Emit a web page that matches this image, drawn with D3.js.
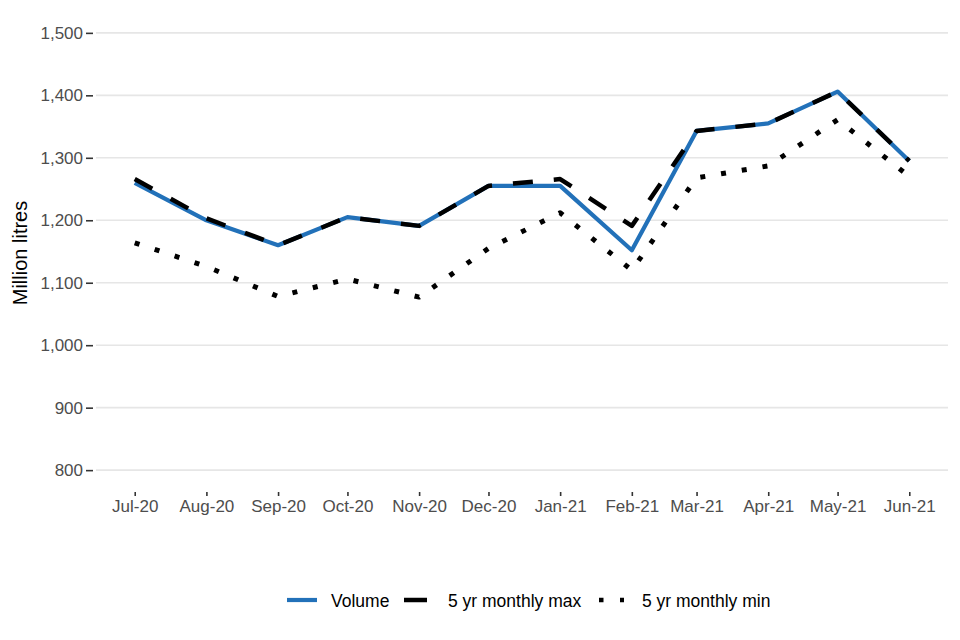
<!DOCTYPE html>
<html>
<head>
<meta charset="utf-8">
<script src="https://cdn.jsdelivr.net/npm/d3@7"></script>
<style>
  body { margin: 0; background: #fff; }
  text { font-family: "Liberation Sans", Arial, sans-serif; }
</style>
</head>
<body>
<svg id="chart" width="960" height="640"></svg>
<script>
// monthly data, million litres
const months = ['2020-07-01', '2020-08-01', '2020-09-01', '2020-10-01', '2020-11-01', '2020-12-01',
                '2021-01-01', '2021-02-01', '2021-03-01', '2021-04-01', '2021-05-01', '2021-06-01'];
const volume = [1260, 1200, 1160, 1205, 1191, 1255, 1255, 1152, 1343, 1355, 1406, 1295];
const maxFive = [1266, 1203, 1160, 1205, 1191, 1255, 1266, 1191, 1343, 1355, 1406, 1295];
const minFive = [1164, 1126, 1078, 1106, 1077, 1155, 1212, 1120, 1268, 1287, 1361, 1270];
const yTicks = [800, 900, 1000, 1100, 1200, 1300, 1400, 1500];

const parse = d3.timeParse('%Y-%m-%d');
const dates = months.map(parse);

const svg = d3.select('#chart');
const margin = { top: 11, right: 12, bottom: 148, left: 96 };
const width = 960 - margin.left - margin.right;
const height = 640 - margin.top - margin.bottom;

const g = svg.append('g')
    .attr('transform', `translate(${margin.left},${margin.top})`);

// ggplot-style 5% expansion on both axes
const xExtent = d3.extent(dates);
const xPad = (xExtent[1] - xExtent[0]) * 0.05;
const x = d3.scaleTime()
    .domain([new Date(+xExtent[0] - xPad), new Date(+xExtent[1] + xPad)])
    .range([0, width]);

const y = d3.scaleLinear()
    .domain([800 - 35, 1500 + 35])
    .range([height, 0]);

// gridlines
g.append('g')
    .selectAll('line')
    .data(yTicks)
    .enter()
    .append('line')
    .attr('x1', 0)
    .attr('x2', width)
    .attr('y1', d => y(d))
    .attr('y2', d => y(d))
    .attr('stroke', '#e6e6e6')
    .attr('stroke-width', 1.6);

const fmtY = d3.format(',');
const fmtX = d3.timeFormat('%b-%y');

const yAxis = g.append('g')
    .call(d3.axisLeft(y).tickValues(yTicks).tickFormat(fmtY).tickSize(0));
yAxis.select('.domain').remove();
yAxis.selectAll('.tick line')
    .attr('x1', -10).attr('x2', -3)
    .attr('stroke', '#333').attr('stroke-width', 1.6);
yAxis.selectAll('.tick text')
    .attr('fill', '#4d4d4d')
    .attr('font-size', 17)
    .attr('x', -13)
    .style('font-family', '"Liberation Sans", Arial, sans-serif');

const xAxis = g.append('g')
    .attr('transform', `translate(0,${height})`)
    .call(d3.axisBottom(x).tickValues(dates).tickFormat(fmtX).tickSize(4).tickPadding(4));
xAxis.select('.domain').remove();
xAxis.selectAll('.tick line').attr('stroke', '#333').attr('stroke-width', 1.6);
xAxis.selectAll('.tick text')
    .attr('fill', '#4d4d4d')
    .attr('font-size', 17)
    .style('font-family', '"Liberation Sans", Arial, sans-serif');

// axis title
svg.append('text')
    .attr('transform', `translate(27,253) rotate(-90)`)
    .attr('text-anchor', 'middle')
    .attr('font-size', 20)
    .attr('fill', '#000')
    .text('Million litres');

const series = [
    { name: 'Volume', values: volume, color: '#2271b9', dash: null, width: 4.2 },
    { name: '5 yr monthly max', values: maxFive, color: '#000', dash: '20,21', width: 4.5 },
    { name: '5 yr monthly min', values: minFive, color: '#000', dash: '5,16', width: 5 }
];

const line = d3.line()
    .x(d => x(d.date))
    .y(d => y(d.value));

series.forEach(s => {
    g.append('path')
        .datum(dates.map((d, i) => ({ date: d, value: s.values[i] })))
        .attr('d', line)
        .attr('fill', 'none')
        .attr('stroke', s.color)
        .attr('stroke-width', s.width)
        .attr('stroke-linejoin', 'round')
        .attr('stroke-linecap', 'butt')
        .attr('stroke-dasharray', s.dash);
});

// legend
const ly = 600;
const legend = svg.append('g');
legend.append('line')
    .attr('x1', 287).attr('x2', 317).attr('y1', ly).attr('y2', ly)
    .attr('stroke', series[0].color).attr('stroke-width', series[0].width);
legend.append('line')
    .attr('x1', 404).attr('x2', 427).attr('y1', ly).attr('y2', ly)
    .attr('stroke', series[1].color).attr('stroke-width', series[1].width);
legend.append('line')
    .attr('x1', 599).attr('x2', 624).attr('y1', ly).attr('y2', ly)
    .attr('stroke', series[2].color).attr('stroke-width', 4.5)
    .attr('stroke-dasharray', '4.5,16.5,4.5');

const legendText = [
    { name: series[0].name, x: 331 },
    { name: series[1].name, x: 448 },
    { name: series[2].name, x: 642 }
];
legend.selectAll('text.lab')
    .data(legendText)
    .enter()
    .append('text')
    .attr('class', 'lab')
    .attr('x', d => d.x)
    .attr('y', 607)
    .attr('font-size', 17.5)
    .attr('fill', '#000')
    .text(d => d.name);
</script>
</body>
</html>
